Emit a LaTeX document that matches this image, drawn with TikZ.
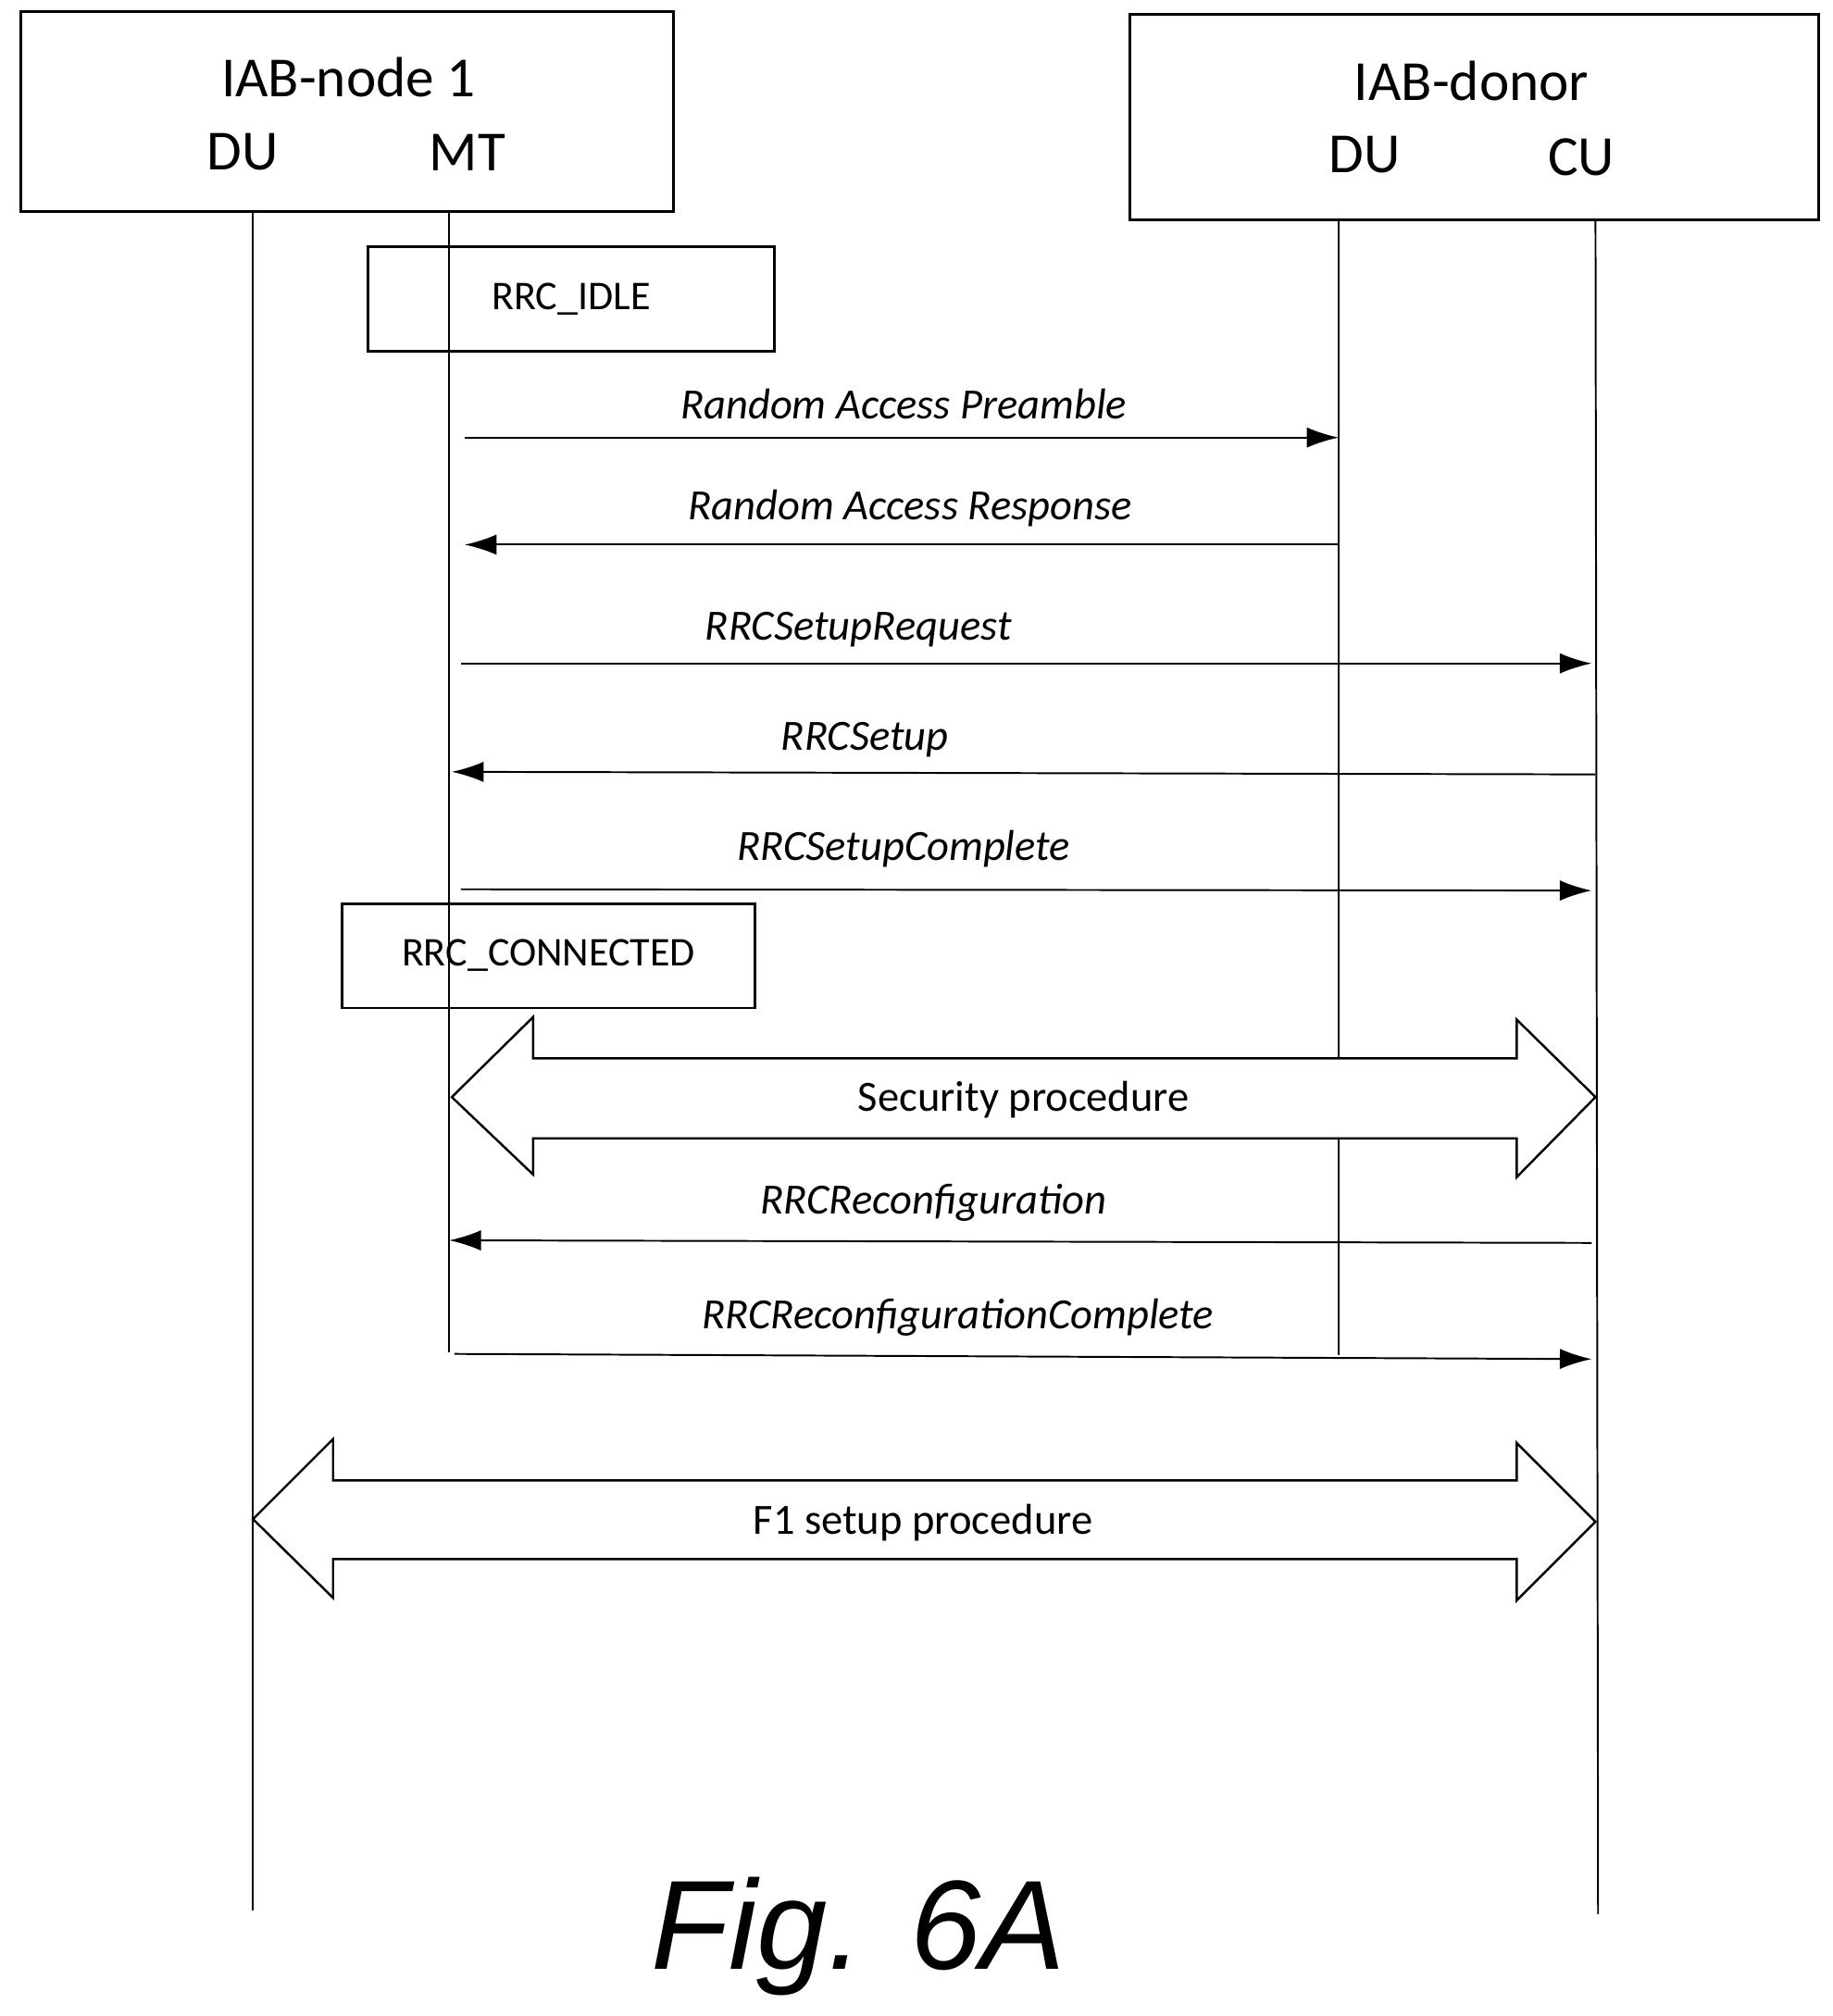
\documentclass[tikz,border=0pt]{standalone}
\usepackage{fontspec}
\setmainfont{Carlito}
\newfontfamily\figfont{Liberation Sans}
\usetikzlibrary{arrows.meta}
\begin{document}
\begin{tikzpicture}[x=0.02cm,y=-0.02cm,
  box/.style={draw,line width=1.2pt,inner sep=0},
  life/.style={line width=0.8pt},
  msg/.style={line width=0.8pt,-{Latex[length=14pt,width=9pt]}},
  lab/.style={font=\fontsize{19}{22}\selectfont\itshape},
  head/.style={font=\fontsize{25}{28}\selectfont},
  big/.style={draw,line width=1pt,fill=white}]
\useasboundingbox (0,0) rectangle (1420,1562);
% header boxes
\draw[box] (16,9) rectangle (522,164);
\node[head] (n1) at (270,60) {IAB-node 1};
\node[head] (n1du) at (188,118) {DU};
\node[head] (n1mt) at (362,118) {MT};
\draw[box] (875,11) rectangle (1409,170);
\node[head] (dn) at (1140,63) {IAB-donor};
\node[head] (dndu) at (1057,120) {DU};
\node[head] (dncu) at (1225,122) {CU};
% lifelines
\coordinate (a0) at (196,164); \coordinate (a1) at (196,1480);
\coordinate (b0) at (348,164); \coordinate (b1) at (348,1048);
\coordinate (c0) at (1037,170); \coordinate (c1) at (1037,1050);
\coordinate (d0) at (1236,170); \coordinate (d1) at (1238,1483);
\draw[life] (a0)--(a1); \draw[life] (b0)--(b1); \draw[life] (c0)--(c1); \draw[life] (d0)--(d1);
% state boxes
\node[box,minimum width=315*0.02cm,minimum height=81*0.02cm,font=\fontsize{18}{21}\selectfont] (idle) at (442.5,231.5) {RRC\_IDLE};
% messages
\coordinate (m1a) at (360,339); \coordinate (m1b) at (1037,339);
\draw[msg] (m1a)--(m1b); \node[lab] (l1) at (700,313) {Random Access Preamble};
\coordinate (m2a) at (1037,422); \coordinate (m2b) at (360,422);
\draw[msg] (m2a)--(m2b); \node[lab] (l2) at (705,394) {Random Access Response};
\coordinate (m3a) at (357,514); \coordinate (m3b) at (1233,514);
\draw[msg] (m3a)--(m3b); \node[lab] (l3) at (665,488) {RRCSetupRequest};
\coordinate (m4a) at (1236,600); \coordinate (m4b) at (350,598);
\draw[msg] (m4a)--(m4b); \node[lab] (l4) at (670,573) {RRCSetup};
\coordinate (m5a) at (357,689); \coordinate (m5b) at (1233,690);
\draw[msg] (m5a)--(m5b); \node[lab] (l5) at (700,658) {RRCSetupComplete};
\node[box,minimum width=320*0.02cm,minimum height=81*0.02cm,font=\fontsize{18}{21}\selectfont] (conn) at (425,740.5) {RRC\_CONNECTED};
% security
\draw[big] (350,850)--(413,788)--(413,820)--(1175,820)--(1175,790)--(1236,850)--(1175,912)--(1175,882)--(413,882)--(413,910)--cycle;
\node[font=\fontsize{19}{22}\selectfont] (sec) at (793,852) {Security procedure};
\draw[life] (1037,882)--(1037,1050);
\coordinate (m6a) at (1233,963); \coordinate (m6b) at (348,961);
\draw[msg] (m6a)--(m6b); \node[lab] (l6) at (723,932) {RRCReconfiguration};
\coordinate (m7a) at (352,1049); \coordinate (m7b) at (1233,1053);
\draw[msg] (m7a)--(m7b); \node[lab] (l7) at (742,1021) {RRCReconfigurationComplete};
% F1
\draw[big] (196,1177)--(258,1115)--(258,1147)--(1175,1147)--(1175,1118)--(1236,1179)--(1175,1240)--(1175,1208)--(258,1208)--(258,1238)--cycle;
\node[font=\fontsize{19}{22}\selectfont] (f1) at (715,1180) {F1 setup procedure};
\node[font=\figfont\fontsize{56}{60}\selectfont\itshape] (fig) at (665,1500) {Fig. 6A};
\end{tikzpicture}
\end{document}
